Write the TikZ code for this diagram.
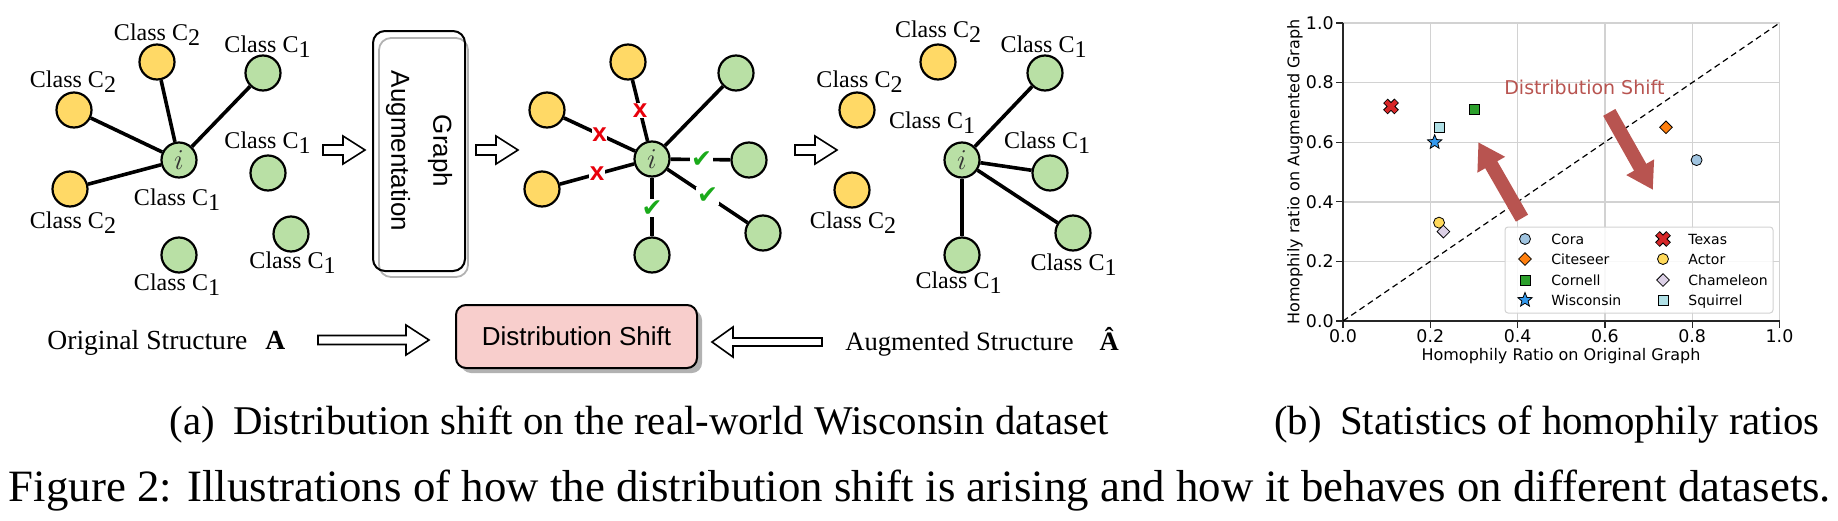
\documentclass[tikz,border=0pt]{standalone}
\usepackage{fontspec}
\setmainfont{Liberation Serif}
\newfontfamily\arialf{Liberation Sans}
\newfontfamily\dejavuf{DejaVu Sans}
\usetikzlibrary{shapes.geometric,arrows.meta,calc}
\definecolor{ylw}{HTML}{FFD966}
\definecolor{grn}{HTML}{B9E0A5}
\definecolor{pinkf}{HTML}{F8CECC}
\definecolor{arrred}{HTML}{B85450}
\definecolor{chkgreen}{HTML}{1AAA1A}
\definecolor{xred}{HTML}{E8000B}
\definecolor{gridc}{HTML}{D2D2D2}
\definecolor{coraC}{HTML}{A0C4E0}
\definecolor{citeC}{HTML}{FF7F0E}
\definecolor{cornC}{HTML}{2CA02C}
\definecolor{wiscC}{HTML}{3399EE}
\definecolor{texC}{HTML}{D62728}
\definecolor{actC}{HTML}{FFD95A}
\definecolor{chamC}{HTML}{DCD0E6}
\definecolor{squC}{HTML}{B0E0E6}
\newcommand\cls[1]{Class C\raisebox{-2.7pt}{#1}}
\newcommand\hollowR[6]{% tail x, tip x, y, shaft half, head half, head start x
  \draw[harrow] (#1,{#3-#4}) -- (#6,{#3-#4}) -- (#6,{#3-#5}) -- (#2,#3) -- (#6,{#3+#5}) -- (#6,{#3+#4}) -- (#1,{#3+#4}) -- cycle;}
\newcommand\texmark[1]{%
  \draw[line width=3.2pt, black] ([shift={(-2.8pt,-2.8pt)}]#1) -- ([shift={(2.8pt,2.8pt)}]#1) ([shift={(-2.8pt,2.8pt)}]#1) -- ([shift={(2.8pt,-2.8pt)}]#1);
  \draw[line width=2.2pt, texC] ([shift={(-2.55pt,-2.55pt)}]#1) -- ([shift={(2.55pt,2.55pt)}]#1) ([shift={(-2.55pt,2.55pt)}]#1) -- ([shift={(2.55pt,-2.55pt)}]#1);}
\tikzset{
  gnode/.style={circle, draw=black, line width=1.1pt, minimum size=17.5pt, inner sep=0pt},
  ynode/.style={gnode, fill=ylw},
  cnode/.style={gnode, fill=grn},
  inode/.style={cnode, font=\fontsize{14}{14}\selectfont, text=black!80},
  lbl/.style={anchor=base, font=\fontsize{12}{14}\selectfont, inner sep=0pt},
  gedge/.style={line width=1.8pt},
  harrow/.style={draw=black, line width=0.8pt, fill=white, line join=miter},
  xmark/.style={fill=white, inner sep=0.3pt, text=xred, font=\arialf\bfseries\fontsize{13}{13}\selectfont},
  cmark/.style={fill=white, inner sep=0.5pt, text=chkgreen, font=\dejavuf\fontsize{12.5}{12.5}\selectfont},
  gridl/.style={draw=gridc, line width=0.7pt},
  spine/.style={draw=black!85, line width=0.6pt},
  tickl/.style={font=\dejavuf\fontsize{8.7}{10}\selectfont, inner sep=0pt},
  axl/.style={font=\dejavuf\fontsize{8}{10}\selectfont, inner sep=0pt},
  mk/.style={draw=black, line width=0.4pt, inner sep=0pt},
  mkc/.style={mk, circle, minimum size=5.5pt},
  mks/.style={mk, rectangle, minimum size=5pt},
  mkd/.style={mk, diamond, minimum size=6.5pt},
  mkst/.style={mk, star, star points=5, star point ratio=2.3, minimum size=7.5pt},
  redarr/.style={draw=arrred, line width=7pt, -{Triangle[width=15pt,length=13pt]}},
  legt/.style={anchor=base west, font=\dejavuf\fontsize{7}{8}\selectfont, inner sep=0pt},
  capt/.style={anchor=base, font=\fontsize{20.4}{24}\selectfont, inner sep=0pt},
  bott/.style={anchor=base west, font=\fontsize{13.8}{16}\selectfont, inner sep=0pt},
}
\begin{document}
\begin{tikzpicture}[x=0.5pt, y=-0.5pt]
\useasboundingbox (0,0) rectangle (1838,520);

% ---------------- left graph ----------------
\node[ynode] (Ly1) at (157,62) {};
\node[ynode] (Ly2) at (74,110) {};
\node[ynode] (Ly3) at (70,189) {};
\node[inode] (Li) at (179,160) {$i$};
\node[cnode] (Lg1) at (263,73) {};
\node[cnode] (Lg2) at (268,173) {};
\node[cnode] (Lg3) at (179,255) {};
\node[cnode] (Lg4) at (291,234) {};
\draw[gedge] (Li) -- (Ly1);
\draw[gedge] (Li) -- (Ly2);
\draw[gedge] (Li) -- (Ly3);
\draw[gedge] (Li) -- (Lg1);
\node[lbl] (lLy1) at (157,40) {\cls{2}};
\node[lbl] (lLy2) at (73,87) {\cls{2}};
\node[lbl] (lLy3) at (73,228) {\cls{2}};
\node[lbl] (lLi) at (177,205) {\cls{1}};
\node[lbl] (lLg1) at (267.5,52) {\cls{1}};
\node[lbl] (lLg2) at (267.5,148) {\cls{1}};
\node[lbl] (lLg3) at (177,290) {\cls{1}};
\node[lbl] (lLg4) at (292.5,268) {\cls{1}};

% ---------------- augmentation box ----------------
\draw[draw=black!30, line width=0.9pt, rounded corners=6pt] (379,38) rectangle (468,277);
\node[draw=black, line width=1pt, rounded corners=6pt, minimum width=46pt, minimum height=120pt, inner sep=0pt] (aug) at (419,151) {};
\node[rotate=-90, align=center, font=\arialf\fontsize{13}{21}\selectfont] (augt) at (aug.center) {Graph\\Augmentation};

\hollowR{323}{365}{150}{5}{14}{343}
\hollowR{476}{518}{150}{5}{14}{496}
\hollowR{795}{837}{150}{5}{14}{815}

% ---------------- middle graph ----------------
\node[ynode] (My1) at (628,62) {};
\node[ynode] (My2) at (547,110) {};
\node[ynode] (My3) at (542,189) {};
\node[inode] (Mi) at (652,159) {$i$};
\node[cnode] (Mg1) at (736,73) {};
\node[cnode] (Mg2) at (749,160) {};
\node[cnode] (Mg3) at (763,233) {};
\node[cnode] (Mg4) at (652,255) {};
\draw[gedge] (Mi) -- (Mg1);
\draw[gedge] (Mi) -- node[xmark, pos=0.5] (x1) {x} (My1);
\draw[gedge] (Mi) -- node[xmark, pos=0.5] (x2) {x} (My2);
\draw[gedge] (Mi) -- node[xmark, pos=0.5] (x3) {x} (My3);
\draw[gedge] (Mi) -- node[cmark, pos=0.52] (c1) {✔} (Mg2);
\draw[gedge] (Mi) -- node[cmark, pos=0.5] (c2) {✔} (Mg3);
\draw[gedge] (Mi) -- node[cmark, pos=0.52] (c3) {✔} (Mg4);

% ---------------- right graph ----------------
\node[ynode] (Ry1) at (938,62) {};
\node[ynode] (Ry2) at (857,110) {};
\node[ynode] (Ry3) at (852,190) {};
\node[inode] (Ri) at (962,160) {$i$};
\node[cnode] (Rg1) at (1045,73) {};
\node[cnode] (Rg2) at (1050,173) {};
\node[cnode] (Rg3) at (1073,233) {};
\node[cnode] (Rg4) at (962,255) {};
\draw[gedge] (Ri) -- (Rg1);
\draw[gedge] (Ri) -- (Rg2);
\draw[gedge] (Ri) -- (Rg3);
\draw[gedge] (Ri) -- (Rg4);
\node[lbl] (lRy1) at (938,37) {\cls{2}};
\node[lbl] (lRy2) at (859.5,87) {\cls{2}};
\node[lbl] (lRy3) at (853,228) {\cls{2}};
\node[lbl] (lRi) at (932,128) {\cls{1}};
\node[lbl] (lRg1) at (1043.5,52) {\cls{1}};
\node[lbl] (lRg2) at (1047,148) {\cls{1}};
\node[lbl] (lRg3) at (1073.5,270) {\cls{1}};
\node[lbl] (lRg4) at (958.5,288) {\cls{1}};

% ---------------- bottom row ----------------
\node[bott] (orig) at (47,349) {Original Structure\hspace{9pt}\textbf{A}};
\hollowR{318}{429}{340}{4.5}{15}{406}
\fill[black!30, rounded corners=5pt] (461,310) rectangle (702,373);
\node[draw=black, line width=1pt, fill=pinkf, rounded corners=5pt, minimum width=120.5pt, minimum height=31.5pt, inner sep=0pt, font=\arialf\fontsize{13}{15}\selectfont] (dshift) at (576.5,336.5) {Distribution Shift};
\hollowR{822}{712}{342}{4}{15}{733}
\node[bott, font=\fontsize{13.3}{16}\selectfont] (augs) at (845,350) {Augmented Structure\hspace{13pt}\textbf{Â}};

% ---------------- plot ----------------
\begin{scope}[shift={(671.5pt,-160.5pt)}, x=218.25pt, y=149pt]
  \foreach \v in {0.2,0.4,0.6,0.8,1.0} {
    \draw[gridl] (\v,0) -- (\v,1);
    \draw[gridl] (0,\v) -- (1,\v);
  }
  \draw[spine] (0,1) -- (0,0) -- (1,0);
  \foreach \v/\t in {0/0.0,0.2/0.2,0.4/0.4,0.6/0.6,0.8/0.8,1/1.0} {
    \draw[spine] (\v,0) -- ++(0,-3.5pt);
    \draw[spine] (0,\v) -- ++(-3.5pt,0);
    \node[tickl, anchor=north] at ([yshift=-4pt]\v,0) {\t};
    \node[tickl, anchor=east] at ([xshift=-4.5pt]0,\v) {\t};
  }
  \draw[dashed, dash pattern=on 3pt off 2pt, line width=0.6pt] (0,0) -- (1,1);
  \draw[redarr] (0.41,0.345) -- (0.31,0.60);
  \draw[redarr] (0.61,0.70) -- (0.71,0.44);
  \node[text=arrred, font=\dejavuf\fontsize{9.5}{11}\selectfont] (dstxt) at (0.553,0.785) {Distribution Shift};
  % data
  \node[mkc, fill=coraC] (pcora) at (0.81,0.54) {};
  \node[mkd, fill=citeC] (pcite) at (0.74,0.65) {};
  \node[mks, fill=cornC] (pcorn) at (0.30,0.71) {};
  \node[mkst, fill=wiscC] (pwisc) at (0.21,0.60) {};
  \coordinate (ptex) at (0.11,0.72);
  \texmark{ptex}
  \node[mkc, fill=actC] (pact) at (0.22,0.33) {};
  \node[mkd, fill=chamC] (pcham) at (0.23,0.30) {};
  \node[mks, fill=squC] (psqu) at (0.22,0.65) {};
\end{scope}
\node[axl] (xlab) at (1561,356) {Homophily Ratio on Original Graph};
\node[axl, rotate=90] (ylab) at (1295,172) {Homophily ratio on Augmented Graph};

% legend
\draw[draw=gridc, fill=white, fill opacity=0.85, line width=0.5pt, rounded corners=1.5pt] (1505,227) rectangle (1773,313);
\node[mkc, fill=coraC] (lg1) at (1525,239) {};
\node[mkd, fill=citeC] (lg2) at (1525,259) {};
\node[mks, fill=cornC] (lg3) at (1525,280) {};
\node[mkst, fill=wiscC] (lg4) at (1525,300) {};
\coordinate (lg5) at (1663,239);
\texmark{lg5}
\node[mkc, fill=actC] (lg6) at (1663,259) {};
\node[mkd, fill=chamC] (lg7) at (1663,280) {};
\node[mks, fill=squC] (lg8) at (1663,300) {};
\node[legt] at (1551,244) {Cora};
\node[legt] at (1551,264) {Citeseer};
\node[legt] at (1551,285) {Cornell};
\node[legt] at (1551,305) {Wisconsin};
\node[legt] at (1688,244) {Texas};
\node[legt] at (1688,264) {Actor};
\node[legt] at (1688,285) {Chameleon};
\node[legt] at (1688,305) {Squirrel};

% ---------------- captions ----------------
\node[capt] (capa) at (639,434) {(a)\hspace{0.45em}Distribution shift on the real-world Wisconsin dataset};
\node[capt] (capb) at (1547,434) {(b)\hspace{0.45em}Statistics of homophily ratios};
\node[capt, font=\fontsize{22.4}{26}\selectfont] (capfig) at (920,501) {\makebox[911pt][s]{Figure 2: Illustrations of how the distribution shift is arising and how it behaves on different datasets.}};
\end{tikzpicture}
\end{document}
